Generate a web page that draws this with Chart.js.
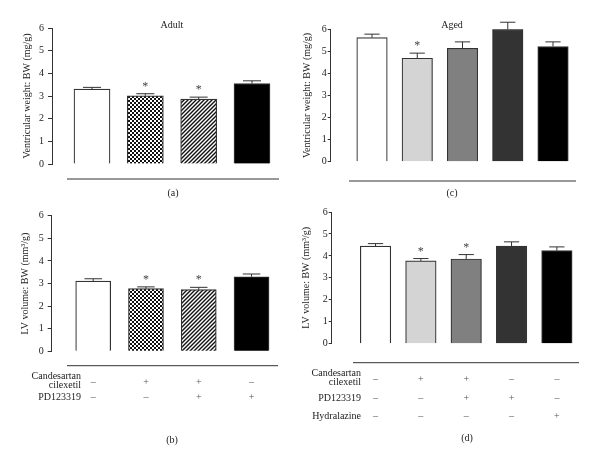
<!DOCTYPE html>
<html lang="en">
<head>
<meta charset="UTF-8">
<title>Ventricular weight and LV volume</title>
<style>
  body { margin: 0; background: #fff; }
  #wrap { position: relative; width: 600px; height: 464px; }
  .panel { position: absolute; }
</style>
</head>
<body>
<div id="wrap">
  <div class="panel" style="left:0;top:0;width:300px;height:205px"><canvas id="chartA"></canvas></div>
  <div class="panel" style="left:300px;top:0;width:300px;height:205px"><canvas id="chartC"></canvas></div>
  <div class="panel" style="left:0;top:205px;width:300px;height:259px"><canvas id="chartB"></canvas></div>
  <div class="panel" style="left:300px;top:205px;width:300px;height:259px"><canvas id="chartD"></canvas></div>
</div>
<script src="https://cdn.jsdelivr.net/npm/chart.js"></script>
<script>
// groups (bar order)
const adultGroups = ['Vehicle', 'Candesartan cilexetil', 'Candesartan cilexetil + PD123319', 'PD123319'];
const agedGroups = ['Vehicle', 'Candesartan cilexetil', 'Candesartan cilexetil + PD123319', 'PD123319', 'Hydralazine'];

// ventricular weight : BW (mg/g)
const adultVW = [3.30, 3.01, 2.86, 3.55];
const adultVWErr = [0.08, 0.09, 0.09, 0.12];
const adultVWSig = [false, true, true, false];
const agedVW = [5.62, 4.69, 5.14, 6.00, 5.22];
const agedVWErr = [0.16, 0.23, 0.29, 0.32, 0.21];
const agedVWSig = [false, true, false, false, false];

// LV volume : BW (mm3/g)
const adultLV = [3.11, 2.77, 2.73, 3.30];
const adultLVErr = [0.10, 0.08, 0.10, 0.12];
const adultLVSig = [false, true, true, false];
const agedLV = [4.45, 3.77, 3.86, 4.45, 4.24];
const agedLVErr = [0.11, 0.11, 0.20, 0.19, 0.17];
const agedLVSig = [false, true, true, false, false];

// treatment table
const adultCandesartan = ['–', '+', '+', '–'];
const adultPD = ['–', '–', '+', '+'];
const agedCandesartan = ['–', '+', '+', '–', '–'];
const agedPD = ['–', '–', '+', '+', '–'];
const agedHydralazine = ['–', '–', '–', '–', '+'];

const FONT = '"Liberation Serif", "DejaVu Serif", serif';
const INK = '#222';

function checker(ctx) {
    const c = document.createElement('canvas');
    c.width = 4; c.height = 4;
    const g = c.getContext('2d');
    g.fillStyle = '#fff'; g.fillRect(0, 0, 4, 4);
    g.fillStyle = '#111'; g.fillRect(0, 0, 2, 2); g.fillRect(2, 2, 2, 2);
    return ctx.createPattern(c, 'repeat');
}

function hatch(ctx) {
    const c = document.createElement('canvas');
    c.width = 4; c.height = 4;
    const g = c.getContext('2d');
    g.fillStyle = '#fff'; g.fillRect(0, 0, 4, 4);
    g.strokeStyle = '#111'; g.lineWidth = 1.4;
    g.beginPath();
    g.moveTo(0, 4); g.lineTo(4, 0);
    g.moveTo(-1, 1); g.lineTo(1, -1);
    g.moveTo(3, 5); g.lineTo(5, 3);
    g.stroke();
    return ctx.createPattern(c, 'repeat');
}

// text decoration per panel (canvas coordinates)
const decor = {
    chartA: { title: 'Adult', titleX: 172, titleY: 25, lineY: 179, lineX0: 67, lineX1: 279,
        tag: '(a)', tagX: 173, tagY: 193, err: adultVWErr, sig: adultVWSig, rows: [] },
    chartC: { title: 'Aged', titleX: 152, titleY: 25, lineY: 181, lineX0: 49, lineX1: 276,
        tag: '(c)', tagX: 152, tagY: 193, err: agedVWErr, sig: agedVWSig, rows: [] },
    chartB: { lineY: 160.7, lineX0: 67, lineX1: 278, tag: '(b)', tagX: 172, tagY: 235,
        err: adultLVErr, sig: adultLVSig, labelRight: 81,
        rows: [
            { label: ['Candesartan', 'cilexetil'], labelY: [171, 180.7], markY: 177.7, marks: adultCandesartan },
            { label: ['PD123319'], labelY: [192], markY: 192, marks: adultPD }
        ] },
    chartD: { lineY: 157.7, lineX0: 53, lineX1: 279, tag: '(d)', tagX: 167, tagY: 233.7,
        err: agedLVErr, sig: agedLVSig, labelRight: 61,
        rows: [
            { label: ['Candesartan', 'cilexetil'], labelY: [168.3, 177.7], markY: 174.3, marks: agedCandesartan },
            { label: ['PD123319'], labelY: [193.7], markY: 193.7, marks: agedPD },
            { label: ['Hydralazine'], labelY: [211.7], markY: 211.7, marks: agedHydralazine }
        ] }
};

const panelDecor = {
    id: 'panelDecor',
    afterDatasetsDraw(chart) {
        const d = decor[chart.canvas.id];
        const ctx = chart.ctx;
        const y = chart.scales.y;
        const meta = chart.getDatasetMeta(0);
        const data = chart.data.datasets[0].data;
        ctx.save();
        ctx.strokeStyle = '#333';
        ctx.lineWidth = 1;
        ctx.fillStyle = INK;
        ctx.textAlign = 'center';
        ctx.textBaseline = 'middle';

        // error bars (upper whisker only) and significance marks
        meta.data.forEach((bar, i) => {
            const top = y.getPixelForValue(data[i].y + d.err[i]);
            const half = bar.width / 4;
            ctx.beginPath();
            ctx.moveTo(bar.x, bar.y);
            ctx.lineTo(bar.x, top);
            ctx.moveTo(bar.x - half, top);
            ctx.lineTo(bar.x + half, top);
            ctx.stroke();
            if (d.sig[i]) {
                ctx.font = '12px ' + FONT;
                ctx.fillStyle = '#444';
                ctx.fillText('*', bar.x, top - 7);
                ctx.fillStyle = INK;
            }
        });

        ctx.font = '10px ' + FONT;
        if (d.title) ctx.fillText(d.title, d.titleX, d.titleY);

        // separator line
        ctx.beginPath();
        ctx.moveTo(d.lineX0, d.lineY);
        ctx.lineTo(d.lineX1, d.lineY);
        ctx.stroke();

        // treatment table
        d.rows.forEach(row => {
            ctx.textAlign = 'right';
            row.label.forEach((t, k) => ctx.fillText(t, d.labelRight, row.labelY[k]));
            ctx.textAlign = 'center';
            ctx.fillStyle = '#555';
            meta.data.forEach((bar, i) => ctx.fillText(row.marks[i], bar.x, row.markY));
            ctx.fillStyle = INK;
        });

        ctx.textAlign = 'center';
        ctx.fillText(d.tag, d.tagX, d.tagY);
        ctx.restore();
    }
};

function makePanel(id, p) {
    const canvas = document.getElementById(id);
    const ctx = canvas.getContext('2d');
    const colors = p.colors.map(c => c === 'checker' ? checker(ctx) : c === 'hatch' ? hatch(ctx) : c);
    return new Chart(canvas, {
        type: 'bar',
        data: {
            labels: p.groups,
            datasets: [{
                data: p.values.map((v, i) => ({ x: i + 1, y: v })),
                backgroundColor: colors,
                borderColor: '#333',
                borderWidth: 1.2,
                barThickness: p.barThickness
            }]
        },
        options: {
            responsive: true,
            maintainAspectRatio: false,
            animation: false,
            layout: { padding: p.padding },
            plugins: { legend: { display: false }, tooltip: { enabled: false } },
            scales: {
                x: { type: 'linear', display: false, offset: false, grid: { offset: false },
                    min: p.xMin, max: p.xMax },
                y: {
                    min: 0, max: 6,
                    afterFit: s => { s.width = p.axisWidth; },
                    ticks: { stepSize: 1, color: INK, padding: p.tickPad, font: { family: FONT, size: 10 } },
                    grid: { drawOnChartArea: false, tickLength: p.tickLen, color: '#333' },
                    border: { color: '#333', width: 1 },
                    title: { display: true, text: p.yTitle, color: INK, font: { family: FONT, size: 10 },
                        padding: { top: p.titlePad, bottom: 0 } }
                }
            }
        },
        plugins: [panelDecor]
    });
}

const adultColors = ['#ffffff', 'checker', 'hatch', '#000000'];
const agedColors = ['#ffffff', '#d4d4d4', '#808080', '#333333', '#000000'];

makePanel('chartA', { groups: adultGroups, values: adultVW, colors: adultColors,
    xMin: 0.25, xMax: 4.525, barThickness: 36, axisWidth: 52, tickLen: 4, tickPad: 4, titlePad: 21,
    yTitle: 'Ventricular weight: BW (mg/g)', padding: { top: 28, right: 20, bottom: 41, left: 0 } });
makePanel('chartC', { groups: agedGroups, values: agedVW, colors: agedColors,
    xMin: 0.087, xMax: 5.53, barThickness: 30.5, axisWidth: 30.7, tickLen: 3, tickPad: 1, titlePad: 1,
    yTitle: 'Ventricular weight: BW (mg/g)', padding: { top: 29.3, right: 23, bottom: 43.3, left: 0 } });
makePanel('chartB', { groups: adultGroups, values: adultLV, colors: adultColors,
    xMin: 0.214, xMax: 4.52, barThickness: 35, axisWidth: 51.7, tickLen: 4, tickPad: 4, titlePad: 19,
    yTitle: 'LV volume: BW (mm³/g)', padding: { top: 10.7, right: 21, bottom: 112.7, left: 0 } });
makePanel('chartD', { groups: agedGroups, values: agedLV, colors: agedColors,
    xMin: 0.033, xMax: 5.51, barThickness: 30.5, axisWidth: 31.7, tickLen: 3, tickPad: 1, titlePad: 0,
    yTitle: 'LV volume: BW (mm³/g)', padding: { top: 6.7, right: 20, bottom: 120.3, left: 0 } });
</script>
</body>
</html>
